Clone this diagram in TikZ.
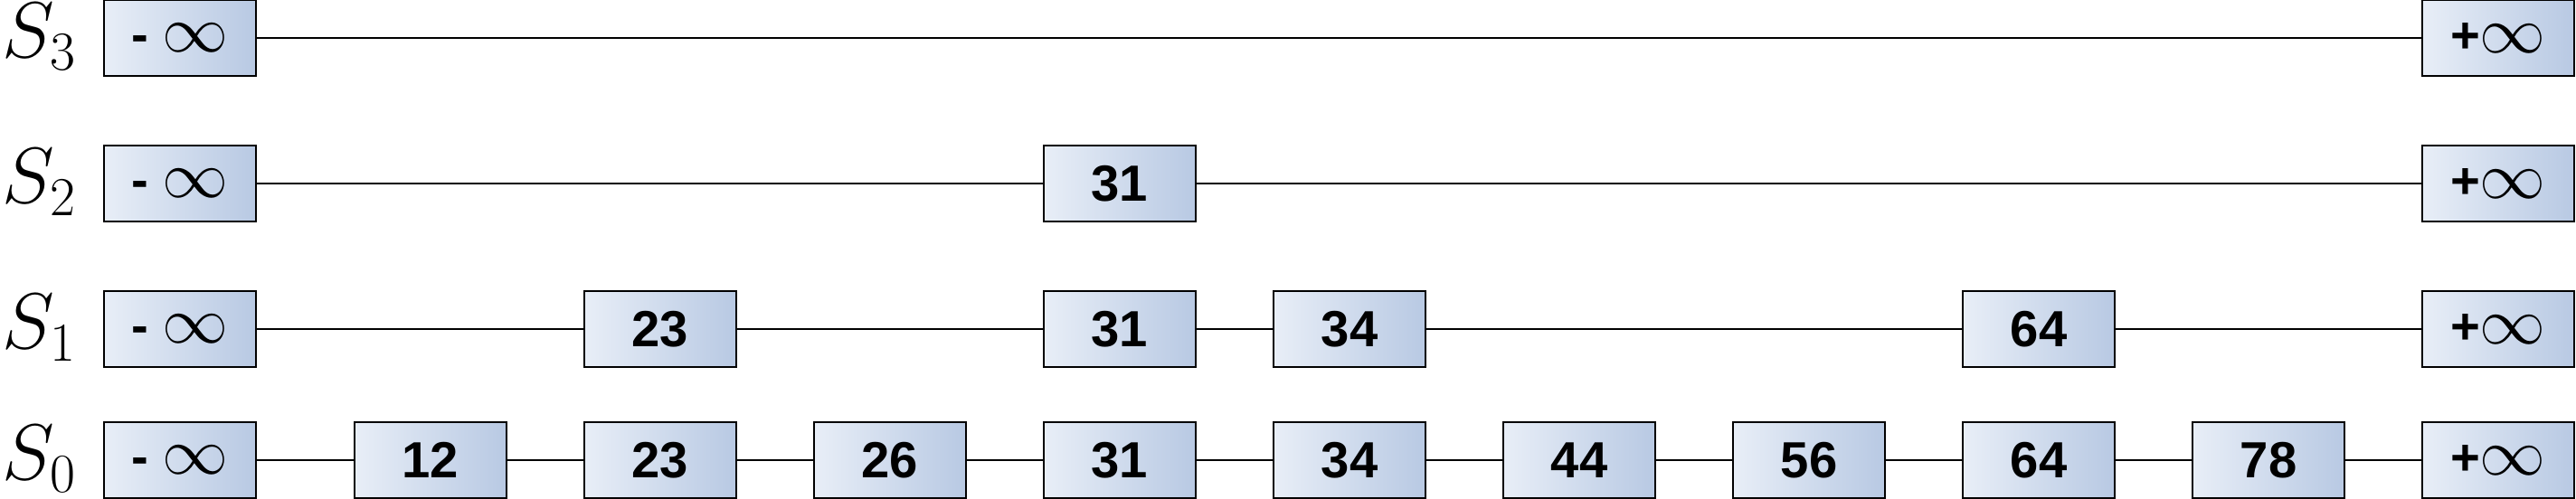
\documentclass[tikz,border=0pt]{standalone}
\usepackage{amsmath}
\usepackage{fontspec}
\usepackage{tikz}
\newfontfamily\keyfont{Liberation Sans}
\definecolor{cellleft}{HTML}{E8EEF7}
\definecolor{cellright}{HTML}{B8C9E3}
\newcommand{\biginf}{{\fontsize{21}{25}\selectfont$\infty$}}
\newcommand{\neginf}{- \biginf}
\newcommand{\posinf}{+\biginf}
\tikzset{
    cell/.style={draw, line width=0.8pt, left color=cellleft, right color=cellright,
        minimum width=1.68cm, minimum height=0.84cm, inner sep=0pt,
        font=\keyfont\bfseries\fontsize{16}{19}\selectfont},
    link/.style={line width=0.6pt},
    level/.style={anchor=base west, inner sep=0pt, font=\fontsize{23}{28}\selectfont}
}

\begin{document}
\begin{tikzpicture}
                \useasboundingbox
                    (0,0) rectangle (28.48,5.52);
                \foreach \lev/\y/\keys in {3/5.10/{10/\posinf},
                        2/3.49/{4/31,10/\posinf},
                        1/1.88/{2/23,4/31,5/34,8/64,10/\posinf},
                        0/0.43/{1/12,2/23,3/26,4/31,5/34,6/44,7/56,8/64,9/78,10/\posinf}} {
                    \node[level]
                        (s\lev) at (0.02,\y-0.22) {$S_\lev$};
                    \node[cell]
                        (n\lev-0) at (1.99,\y) {\neginf};
                    \foreach \c/\k [remember=\c as \last (initially 0)] in \keys {
                        \node[cell]
                            (n\lev-\c) at ({4.76+2.54*(\c-1)},\y) {\k};
                        \draw[link]
                            (n\lev-\last) -- (n\lev-\c);
                    }
                }
            \end{tikzpicture}
\end{document}
